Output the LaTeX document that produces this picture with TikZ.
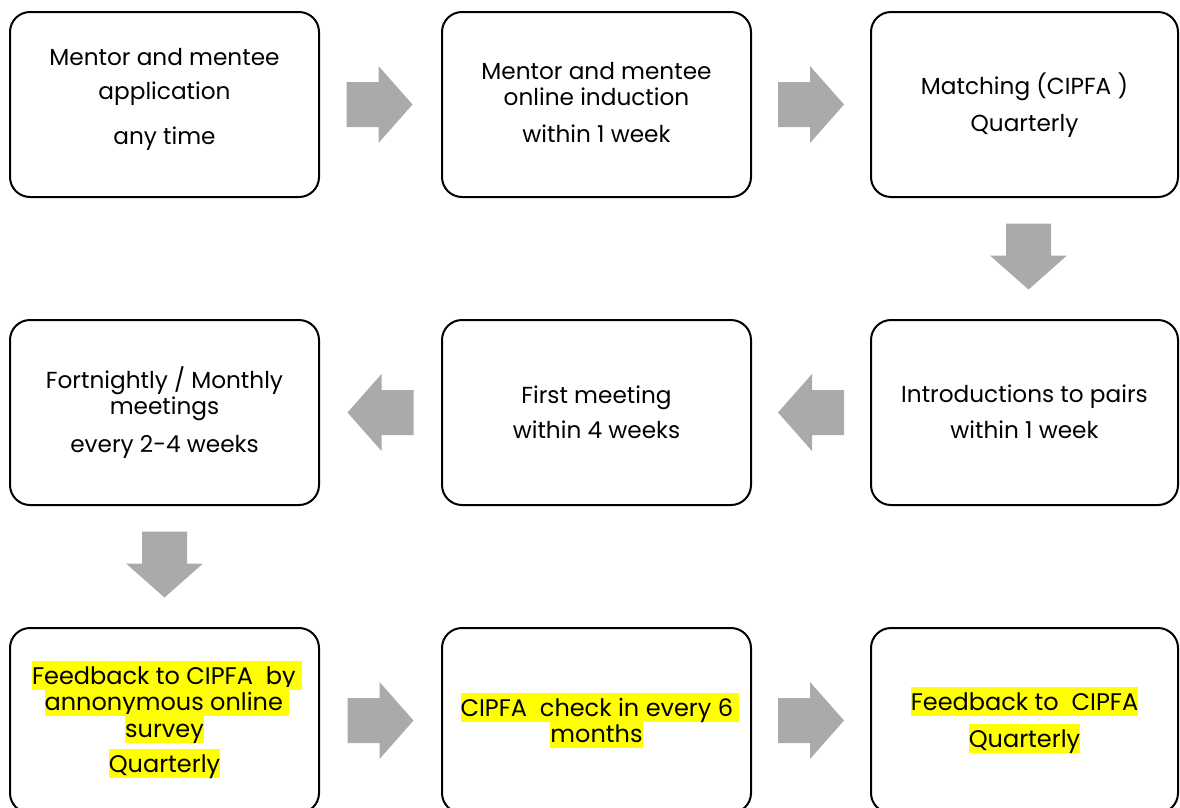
\documentclass[tikz,border=0pt]{standalone}
\usepackage{fontspec}
\setmainfont{Poppins}
\usetikzlibrary{calc}
\definecolor{arrowgray}{RGB}{170,170,170}
\definecolor{hlyellow}{RGB}{255,255,0}
\newcommand\hlt[1]{{\setlength{\fboxsep}{0pt}\colorbox{hlyellow}{\rule[-6pt]{0pt}{29.5pt}#1}}}
\begin{document}
\begin{tikzpicture}[x=1pt,y=-1pt,
  stepbox/.style={draw=black, line width=2pt, rounded corners=20pt,
    minimum width=309pt, minimum height=185pt, inner sep=0pt},
  txt/.style={inner sep=0pt, anchor=base, font=\fontsize{23.2}{28}\selectfont},
  hltxt/.style={txt, font=\fontsize{24}{28}\selectfont},
  blockarrow/.style={fill=arrowgray, draw=none}]
\useasboundingbox (0,0) rectangle (1180,807);
\clip (0,0) rectangle (1180,807);
% boxes
\node[stepbox] (b1) at (164.5,104.5) {};
\node[stepbox] (b2) at (596.5,104.5) {};
\node[stepbox, minimum width=307pt] (b3) at (1024.5,104.5) {};
\node[stepbox, minimum width=307pt] (b4) at (1024.5,412.5) {};
\node[stepbox] (b5) at (596.5,412.5) {};
\node[stepbox] (b6) at (164.5,412.5) {};
\node[stepbox] (b7) at (164.5,720.5) {};
\node[stepbox] (b8) at (596.5,720.5) {};
\node[stepbox, minimum width=307pt] (b9) at (1024.5,720.5) {};
% texts
\node[txt] (t1a) at (164.5,65) {Mentor and mentee};
\node[txt] (t1b) at (164.5,99) {application};
\node[txt] (t1c) at (164.5,144) {any time};
\node[txt] (t2a) at (596.5,79) {Mentor and mentee};
\node[txt] (t2b) at (596.5,105) {online induction};
\node[txt] (t2c) at (596.5,142) {within 1 week};
\node[txt] (t3a) at (1024.5,94) {Matching (CIPFA )};
\node[txt] (t3b) at (1024.5,131) {Quarterly};
\node[txt] (t4a) at (1024.5,402) {Introductions to pairs};
\node[txt] (t4b) at (1024.5,438) {within 1 week};
\node[txt] (t5a) at (596.5,403) {First meeting};
\node[txt] (t5b) at (596.5,438) {within 4 weeks};
\node[txt] (t6a) at (164.5,388) {Fortnightly / Monthly};
\node[txt] (t6b) at (164.5,414) {meetings};
\node[txt] (t6c) at (164.5,452) {every 2-4 weeks};
\node[hltxt] (t7a) at (167,684) {\hlt{Feedback to CIPFA\ \ by }};
\node[hltxt] (t7b) at (167,710) {\hlt{annonymous online }};
\node[hltxt] (t7c) at (164.5,737) {\hlt{survey}};
\node[hltxt] (t7d) at (164.5,772) {\hlt{Quarterly}};
\node[hltxt] (t8a) at (600,716) {\hlt{CIPFA\ \ check in every 6 }};
\node[hltxt] (t8b) at (596.5,742) {\hlt{months}};
\node[hltxt] (t9a) at (1024.5,710) {\hlt{Feedback to\ \ CIPFA}};
\node[hltxt] (t9b) at (1024.5,747) {\hlt{Quarterly}};
% connector positions
\coordinate (a12) at ($(b1.east)!0.5!(b2.west)$);
\coordinate (a23) at ($(b2.east)!0.5!(b3.west)$);
\coordinate (a34) at ($(b3.south)!0.5!(b4.north)$);
\coordinate (a45) at ($(b4.west)!0.5!(b5.east)$);
\coordinate (a56) at ($(b5.west)!0.5!(b6.east)$);
\coordinate (a67) at ($(b6.south)!0.5!(b7.north)$);
\coordinate (a78) at ($(b7.east)!0.5!(b8.west)$);
\coordinate (a89) at ($(b8.east)!0.5!(b9.west)$);
% block arrows
\foreach \c/\r/\dx/\dy in {a12/0/-1/0, a23/0/0/0, a34/-90/4/-2, a45/180/0/0, a56/180/0/0, a67/-90/0/-2, a78/0/0/0, a89/0/0/0}{
  \fill[blockarrow, shift={(\c)}, xshift=\dx pt, yshift=-\dy pt, rotate=\r]
    (-33,-22.5) -- (-1,-22.5) -- (-1,-38.5) -- (33,0) -- (-1,38.5) -- (-1,22.5) -- (-33,22.5) -- cycle;
}
\end{tikzpicture}
\end{document}
